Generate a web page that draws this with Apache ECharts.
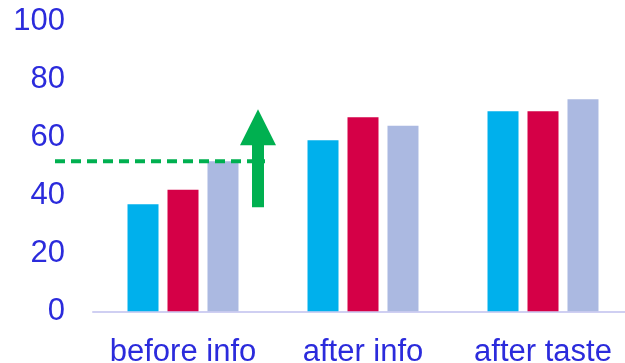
<!DOCTYPE html>
<html>
<head>
<meta charset="utf-8">
<script src="https://cdn.jsdelivr.net/npm/echarts@6/dist/echarts.min.js"></script>
<style>html,body{margin:0;padding:0;background:#fff}#c{width:625px;height:363px}</style>
</head>
<body>
<div id="c"></div>
<script>
const categories = ['before info', 'after info', 'after taste'];
const seriesA = [36.9, 59.0, 69.0];
const seriesB = [41.9, 66.9, 69.0];
const seriesC = [51.7, 64.0, 73.1];
const yTicks = [0, 20, 40, 60, 80, 100];
const refLevel = 51.7;
const arrowFrom = 35.9, arrowHeadBase = 57.3, arrowTip = 69.7;

const blue = '#2b2bdc';
const green = '#00b050';
const chart = echarts.init(document.getElementById('c'));
const mk = (d, c) => ({type: 'bar', data: d, barWidth: 31, barGap: '29%', itemStyle: {color: c}, silent: true});
chart.setOption({
  animation: false,
  grid: {left: 93, top: 21.3, width: 540, bottom: 51.7, containLabel: false, outerBoundsMode: 'none'},
  xAxis: {
    type: 'category', data: categories,
    axisLine: {lineStyle: {color: '#cfcff2', width: 2}},
    axisTick: {show: false},
    axisLabel: {interval: 0, color: blue, fontSize: 31, fontFamily: 'Liberation Sans', margin: 26}
  },
  yAxis: {
    type: 'value', min: yTicks[0], max: yTicks[yTicks.length - 1], interval: 20,
    splitLine: {show: false}, axisLine: {show: false}, axisTick: {show: false},
    axisLabel: {color: blue, fontSize: 31, fontFamily: 'Liberation Sans', margin: 28, padding: [5, 0, 0, 0]}
  },
  series: [mk(seriesA, '#00b0ec'), mk(seriesB, '#d50047'), mk(seriesC, '#abb9e1')]
});
const py = v => chart.convertToPixel({yAxisIndex: 0}, v);
const yRef = py(refLevel), yB = py(arrowFrom), yH = py(arrowHeadBase), yT = py(arrowTip);
const ax = 258;
chart.setOption({
  graphic: [
    {type: 'line', shape: {x1: 55, y1: yRef, x2: 265, y2: yRef},
     style: {stroke: green, lineWidth: 4, lineDash: [10, 6]}, z: 10},
    {type: 'polygon', shape: {points: [
      [ax - 6, yB], [ax + 6, yB], [ax + 6, yH], [ax + 18, yH], [ax, yT],
      [ax - 18, yH], [ax - 6, yH]]},
     style: {fill: green}, z: 11}
  ]
});
</script>
</body>
</html>
